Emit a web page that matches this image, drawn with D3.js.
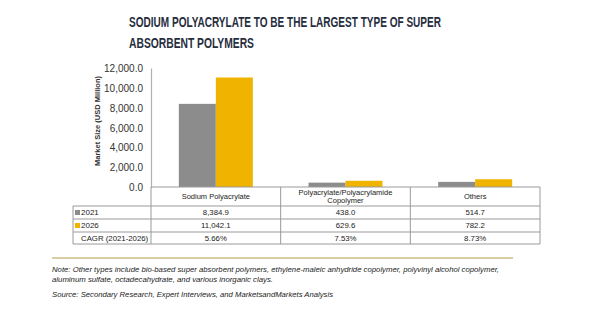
<!DOCTYPE html>
<html>
<head>
<meta charset="utf-8">
<script src="https://cdn.jsdelivr.net/npm/d3@7"></script>
<style>
  body { margin: 0; background: #fff; }
  text { font-family: "Liberation Sans", Arial, sans-serif; }
</style>
</head>
<body>
<svg id="chart" width="600" height="315"></svg>
<script>
// chart data
const categories = ["Sodium Polyacrylate", "Polyacrylate/Polyacrylamide Copolymer", "Others"];
const headerLines = [["Sodium Polyacrylate"], ["Polyacrylate/Polyacrylamide", "Copolymer"], ["Others"]];
const years = ["2021", "2026"];
const values2021 = [8384.9, 438.0, 514.7];
const values2026 = [11042.1, 629.6, 782.2];
const cagr = ["5.66%", "7.53%", "8.73%"];
const yTicks = [0, 2000, 4000, 6000, 8000, 10000, 12000];
const colors = ["#8c8c8c", "#f0b400"];

const svg = d3.select("#chart");
const navy = "#262d3d";

// title
svg.append("text")
    .attr("x", 129).attr("y", 27)
    .attr("fill", navy)
    .style("font", "bold 14px 'Liberation Sans Narrow', 'Arial Narrow', sans-serif")
    .attr("textLength", 312).attr("lengthAdjust", "spacingAndGlyphs")
    .text("SODIUM POLYACRYLATE TO BE THE LARGEST TYPE OF SUPER");
svg.append("text")
    .attr("x", 129).attr("y", 48)
    .attr("fill", navy)
    .style("font", "bold 14px 'Liberation Sans Narrow', 'Arial Narrow', sans-serif")
    .attr("textLength", 125).attr("lengthAdjust", "spacingAndGlyphs")
    .text("ABSORBENT POLYMERS");

// scales
const x = d3.scaleBand().domain(categories).range([151, 540]);
const x1 = d3.scaleBand().domain(years)
    .range([x.bandwidth() / 2 - 37, x.bandwidth() / 2 + 37]);
const y = d3.scaleLinear().domain([0, 12000]).range([187, 68]);

// y axis
const yAxis = svg.append("g")
    .attr("transform", "translate(151,0)")
    .call(d3.axisLeft(y).tickValues(yTicks).tickSize(0).tickPadding(8)
        .tickFormat(d3.format(",.1f")));
yAxis.select(".domain").attr("stroke", "#b0b0b0").attr("stroke-width", 1.2);
yAxis.selectAll("text")
    .attr("fill", "#333")
    .style("font-size", "10px")
    .attr("dy", "0.35em");

svg.append("text")
    .attr("transform", "translate(100,121) rotate(-90)")
    .attr("text-anchor", "middle")
    .attr("fill", "#333")
    .style("font", "bold 7.5px 'Liberation Sans', Arial, sans-serif")
    .text("Market Size (USD Million)");

// bars
const series = [values2021, values2026];
const groups = svg.append("g").selectAll("g")
    .data(categories)
    .join("g")
    .attr("transform", d => `translate(${x(d)},0)`);
groups.selectAll("rect")
    .data((d, i) => years.map((yr, j) => ({ yr, v: series[j][i], c: colors[j] })))
    .join("rect")
    .attr("x", d => x1(d.yr))
    .attr("width", x1.bandwidth())
    .attr("y", d => y(d.v))
    .attr("height", d => y(0) - y(d.v))
    .attr("fill", d => d.c);

// data table
const rowY = [187, 206, 219, 232, 244];
const left = 73, right = x.range()[1];
const line = (x1_, y1_, x2_, y2_) => svg.append("line")
    .attr("x1", x1_).attr("y1", y1_).attr("x2", x2_).attr("y2", y2_)
    .attr("stroke", "#9a9a9a").attr("stroke-width", 1);

line(151, rowY[0], right, rowY[0]);
for (let r = 1; r < rowY.length; r++) line(left, rowY[r], right, rowY[r]);
line(left, rowY[1], left, rowY[4]);
categories.forEach(c => line(x(c) + x.bandwidth(), rowY[0], x(c) + x.bandwidth(), rowY[4]));
line(151, rowY[0], 151, rowY[4]);

const cellFont = "7.8px 'Liberation Sans', Arial, sans-serif";
headerLines.forEach((lines, i) => {
    const cx = x(categories[i]) + x.bandwidth() / 2;
    const mid = (rowY[0] + rowY[1]) / 2;
    lines.forEach((t, k) => {
        svg.append("text")
            .attr("x", cx)
            .attr("y", mid + (k - (lines.length - 1) / 2) * 8.5)
            .attr("dy", "0.35em")
            .attr("text-anchor", "middle")
            .attr("fill", "#222")
            .style("font", "7.5px 'Liberation Sans', Arial, sans-serif")
            .text(t);
    });
});

const rows = [
    { label: "2021", color: colors[0], vals: values2021.map(d3.format(",.1f")) },
    { label: "2026", color: colors[1], vals: values2026.map(d3.format(",.1f")) },
    { label: "CAGR (2021-2026)", color: null, vals: cagr }
];
rows.forEach((row, r) => {
    const mid = (rowY[r + 1] + rowY[r + 2]) / 2;
    if (row.color) {
        svg.append("rect")
            .attr("x", 75).attr("y", mid - 2.5)
            .attr("width", 5).attr("height", 5)
            .attr("fill", row.color);
    }
    svg.append("text")
        .attr("x", 81)
        .attr("y", mid).attr("dy", "0.35em")
        .attr("fill", "#222")
        .style("font", row.color ? "8px 'Liberation Sans', Arial, sans-serif" : cellFont)
        .text(row.label);
    row.vals.forEach((v, i) => {
        svg.append("text")
            .attr("x", x(categories[i]) + x.bandwidth() / 2)
            .attr("y", mid).attr("dy", "0.35em")
            .attr("text-anchor", "middle")
            .attr("fill", "#222")
            .style("font", cellFont)
            .text(v);
    });
});

// footer
svg.append("line")
    .attr("x1", 52).attr("x2", 513).attr("y1", 258).attr("y2", 258)
    .attr("stroke", "#cbbd84").attr("stroke-width", 1.5);

const notes = [
    { t: "Note: Other types include bio-based super absorbent polymers, ethylene-maleic anhydride copolymer, polyvinyl alcohol copolymer,", y: 272, w: 447 },
    { t: "aluminum sulfate, octadecahydrate, and various inorganic clays.", y: 282, w: 221 },
    { t: "Source: Secondary Research, Expert Interviews, and MarketsandMarkets Analysis", y: 297, w: 281 }
];
notes.forEach(n => {
    svg.append("text")
        .attr("x", 52).attr("y", n.y)
        .attr("fill", "#222")
        .style("font", "italic 7.6px 'Liberation Sans', Arial, sans-serif")
        .attr("textLength", n.w).attr("lengthAdjust", "spacingAndGlyphs")
        .text(n.t);
});
</script>
</body>
</html>
